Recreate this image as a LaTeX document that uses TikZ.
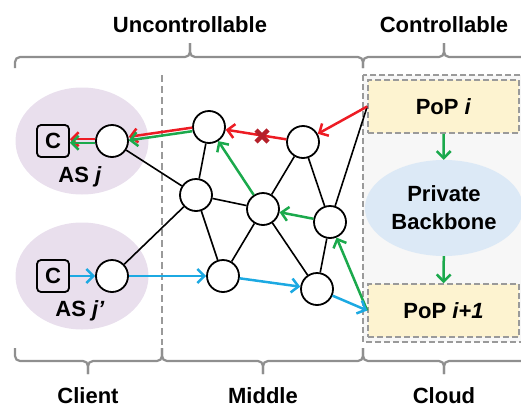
\documentclass[tikz,border=0pt]{standalone}
\usepackage{fontspec}
\setmainfont{Liberation Sans}
\usetikzlibrary{arrows.meta,shapes.geometric}

\definecolor{pathred}{HTML}{ED1C24}
\definecolor{pathgreen}{HTML}{1BA94C}
\definecolor{pathblue}{HTML}{1CA9E2}
\definecolor{cutred}{HTML}{B5202A}
\definecolor{asfill}{HTML}{E9DFED}
\definecolor{popfill}{HTML}{FDF3D0}
\definecolor{bbfill}{HTML}{DCE9F6}
\definecolor{cloudfill}{HTML}{F7F7F7}
\definecolor{dashgray}{HTML}{9A9A9A}
\definecolor{bracegray}{HTML}{8F8F8F}

\tikzset{
  every node/.style={font=\fontsize{22}{28}\selectfont\bfseries},
  router/.style={circle, draw, line width=1.8pt, minimum size=32pt, inner sep=0pt, fill=white},
  clientbox/.style={draw, rounded corners=4pt, line width=1.8pt, minimum size=32pt, inner sep=0pt},
  asblob/.style={ellipse, fill=asfill, minimum width=133pt, minimum height=107pt},
  popbox/.style={draw=dashgray, dash pattern=on 6pt off 3pt, fill=popfill, line width=1.6pt, minimum width=151pt, minimum height=53pt},
  link/.style={line width=1.6pt},
  tip/.style={-{Straight Barb[length=7pt,width=14pt]}},
  redpath/.style={tip, draw=pathred, line width=2.5pt},
  greenpath/.style={tip, draw=pathgreen, line width=2.5pt},
  bluepath/.style={tip, draw=pathblue, line width=2.5pt},
  bracket/.style={draw=bracegray, line width=2.2pt, rounded corners=5pt},
}

\begin{document}
\begin{tikzpicture}[x=1pt,y=-1pt]
  \useasboundingbox (0,0) rectangle (521,407);

  % regions
  \fill[cloudfill] (363,75) rectangle (530,342);
  \draw[dashgray, dash pattern=on 6pt off 3pt, line width=1.6pt] (363,75) rectangle (530,342);
  \draw[dashgray, dash pattern=on 7pt off 4pt, line width=1.6pt] (162,75) -- (162,345);

  \node[asblob] (asj0) at (82,141) {};
  \node[asblob] (asj1) at (82,276) {};

  % client side
  \node[clientbox] (cj) at (53,141) {C};
  \node[router] (asj) at (112,141) {};
  \node (lj) at (80,182) [anchor=base] {AS \textit{j}};
  \node[clientbox] (cjp) at (53,276) {C};
  \node[router] (asjp) at (112,276) {};
  \node (ljp) at (80,316) [anchor=base] {AS \textit{j'}};

  % middle
  \node[router] (r1) at (209,127) {};
  \node[router] (r2) at (196,195) {};
  \node[router] (r3) at (223,276) {};
  \node[router] (r4) at (303,142) {};
  \node[router] (r5) at (263,209) {};
  \node[router] (r6) at (330,222) {};
  \node[router] (r7) at (317,289) {};

  % cloud
  \node[popbox] (popi) at (443.5,106.5) {PoP \textit{i}};
  \node[popbox] (popn) at (443.5,310.5) {PoP \textit{i+1}};
  \node[ellipse, fill=bbfill, minimum width=140pt, minimum height=96pt, align=center] (bb) at (444,208) {Private\\Backbone};

  \draw[link] (asj) -- (r2);
  \draw[link] (asjp) -- (r2);
  \draw[link] (r1) -- (r2);
  \draw[link] (r2) -- (r5);
  \draw[link] (r2) -- (r3);
  \draw[link] (r3) -- (r5);
  \draw[link] (r5) -- (r4);
  \draw[link] (r5) -- (r7);
  \draw[link] (r4) -- (r6);
  \draw[link] (r6) -- (r7);
  \draw[link] (r6) -- (popi.west);

  % paths
  \draw[redpath] (popi.west) -- (r4);
  \draw[redpath] (r4) -- (r1);
  \draw[redpath, transform canvas={yshift=1.8pt}] (r1) -- (asj);
  \draw[redpath, transform canvas={yshift=1.8pt}] (asj) -- (cj);

  \draw[greenpath] (popn.west) -- (r6);
  \draw[greenpath] (r6) -- (r5);
  \draw[greenpath] (r5) -- (r1);
  \draw[greenpath, transform canvas={yshift=-1.8pt}] (r1) -- (asj);
  \draw[greenpath, transform canvas={yshift=-1.8pt}] (asj) -- (cj);
  \draw[greenpath] (popi) -- (bb);
  \draw[greenpath] (bb) -- (popn);

  \draw[bluepath] (cjp) -- (asjp);
  \draw[bluepath] (asjp) -- (r3);
  \draw[bluepath] (r3) -- (r7);
  \draw[bluepath] (r7) -- (popn.west);

  % failed link
  \coordinate (cut) at (262,136);
  \draw[cutred, line width=4.5pt] ([shift={(-6,-6)}]cut) -- ([shift={(6,6)}]cut);
  \draw[cutred, line width=4.5pt] ([shift={(-6,6)}]cut) -- ([shift={(6,-6)}]cut);

  % braces
  \draw[bracket] (15,68) -- (15,57) -- (190,57) -- (190,43);
  \draw[bracket] (190,43) -- (190,57) -- (363,57) -- (363,68);
  \draw[bracket] (363,68) -- (363,57) -- (444,57) -- (444,43);
  \draw[bracket] (444,43) -- (444,57) -- (540,57);
  \draw[bracket] (15,348) -- (15,361) -- (88,361) -- (88,374);
  \draw[bracket] (88,374) -- (88,361) -- (162,361) -- (162,348);
  \draw[bracket] (162,348) -- (162,361) -- (263,361) -- (263,374);
  \draw[bracket] (263,374) -- (263,361) -- (363,361) -- (363,348);
  \draw[bracket] (363,348) -- (363,361) -- (444,361) -- (444,374);
  \draw[bracket] (444,374) -- (444,361) -- (540,361);

  \node (unc) at (190,32) [anchor=base] {Uncontrollable};
  \node (con) at (444,32) [anchor=base] {Controllable};
  \node (cli) at (88,403) [anchor=base] {Client};
  \node (mid) at (263,403) [anchor=base] {Middle};
  \node (clo) at (444,403) [anchor=base] {Cloud};
\end{tikzpicture}
\end{document}
